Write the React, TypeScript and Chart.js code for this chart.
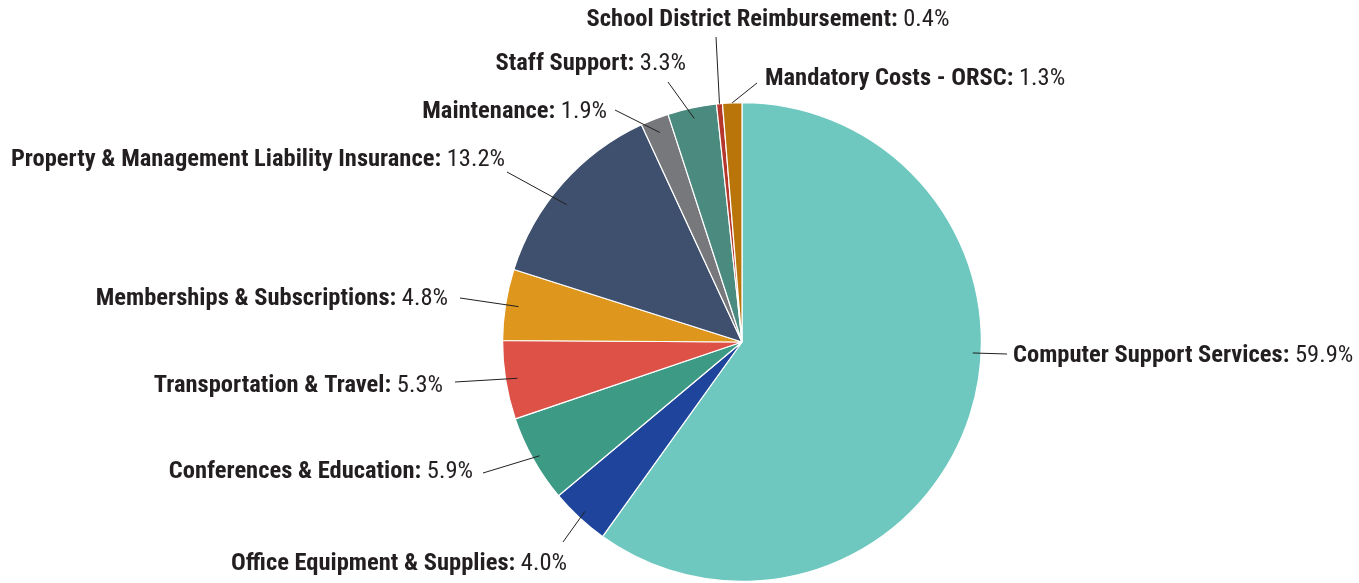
import React, { useEffect, useRef } from "react";
import { Chart, registerables } from "chart.js";

Chart.register(...registerables);

const categories = [
  "Computer Support Services",
  "Office Equipment & Supplies",
  "Conferences & Education",
  "Transportation & Travel",
  "Memberships & Subscriptions",
  "Property & Management Liability Insurance",
  "Maintenance",
  "Staff Support",
  "School District Reimbursement",
  "Mandatory Costs - ORSC",
];

const shares = [59.9, 4.0, 5.9, 5.3, 4.8, 13.2, 1.9, 3.3, 0.4, 1.3];

const colors = [
  "#6fc8bf",
  "#1f449c",
  "#3d9a85",
  "#dd5147",
  "#df961d",
  "#3e506d",
  "#77787b",
  "#4b8a7f",
  "#b5362b",
  "#b97509",
];

// Label layout relative to the pie centre: t = position along slice, r = fraction of radius for connector start,
// (ex, ey) connector end, (tx, ty) text anchor, align = text alignment
const labelLayout = [
  { t: 0.43, r: 0.965, ex: 265, ey: 12, tx: 271, ty: 12, align: "left" },
  { t: 0.5, r: 0.965, ex: -179, ey: 200, tx: -175, ty: 220, align: "right" },
  { t: 0.5, r: 0.97, ex: -259, ey: 131, tx: -269, ty: 128, align: "right" },
  { t: 0.5, r: 0.95, ex: -287, ey: 40, tx: -299, ty: 42, align: "right" },
  { t: 0.5, r: 0.945, ex: -282, ey: -44, tx: -294, ty: -45, align: "right" },
  { t: 0.43, r: 0.93, ex: -235, ey: -170, tx: -237, ty: -184, align: "right" },
  { t: 0.5, r: 0.94, ex: -127, ey: -232, tx: -135, ty: -232, align: "right" },
  { t: 0.5, r: 0.955, ex: -74, ey: -260, tx: -56, ty: -280, align: "right" },
  { t: 0.5, r: 1.0, ex: -26, ey: -305, tx: 26, ty: -324, align: "center" },
  { t: 0.5, r: 1.0, ex: 15, ey: -259, tx: 23, ty: -265, align: "left" },
];

const FONT_FAMILY = "'Liberation Sans Narrow', 'Arial Narrow', 'Roboto Condensed', Roboto, sans-serif";
const FONT_SIZE = 24.5;
const TEXT_SHIFT = 2;
const TEXT_COLOR = "#231f20";

const labelPlugin = {
  id: "pieLabels",
  afterDraw(chart: any) {
    const ctx = chart.ctx;
    const meta = chart.getDatasetMeta(0);
    ctx.save();
    meta.data.forEach((arc: any, i: number) => {
      const lay = labelLayout[i];
      const { x, y, startAngle, endAngle, outerRadius } = arc.getProps(
        ["x", "y", "startAngle", "endAngle", "outerRadius"],
        true
      );
      const ang = startAngle + (endAngle - startAngle) * lay.t;
      const sx = x + Math.cos(ang) * outerRadius * lay.r;
      const sy = y + Math.sin(ang) * outerRadius * lay.r;
      ctx.strokeStyle = TEXT_COLOR;
      ctx.lineWidth = 1;
      ctx.beginPath();
      ctx.moveTo(sx, sy);
      ctx.lineTo(x + lay.ex, y + lay.ey);
      ctx.stroke();

      const name = categories[i] + ": ";
      const val = shares[i].toFixed(1) + "%";
      const boldFont = `bold ${FONT_SIZE}px ${FONT_FAMILY}`;
      const normFont = `${FONT_SIZE}px ${FONT_FAMILY}`;
      ctx.font = boldFont;
      const wName = ctx.measureText(name).width;
      ctx.font = normFont;
      const wVal = ctx.measureText(val).width;
      const total = wName + wVal;
      let left = x + lay.tx;
      if (lay.align === "right") left -= total;
      else if (lay.align === "center") left -= total / 2;
      const ty = y + lay.ty + TEXT_SHIFT;
      ctx.textBaseline = "middle";
      ctx.textAlign = "left";
      ctx.fillStyle = TEXT_COLOR;
      ctx.font = boldFont;
      ctx.fillText(name, left, ty);
      ctx.font = normFont;
      ctx.fillText(val, left + wName, ty);
    });
    ctx.restore();
  },
};

export default function App() {
  const ref = useRef<HTMLCanvasElement | null>(null);
  useEffect(() => {
    if (!ref.current) return;
    const chart = new Chart(ref.current, {
      type: "pie",
      data: {
        labels: categories,
        datasets: [
          {
            data: shares,
            backgroundColor: colors,
            borderColor: "#ffffff",
            borderWidth: 1.2,
          },
        ],
      },
      options: {
        responsive: true,
        maintainAspectRatio: false,
        animation: false,
        layout: { padding: { top: 102, bottom: 1, left: 502, right: 377 } },
        plugins: {
          legend: { display: false },
          tooltip: { enabled: false },
        },
      },
      plugins: [labelPlugin],
    });
    return () => chart.destroy();
  }, []);
  return (
    <div style={{ position: "absolute", left: 0, top: 0, width: 1359, height: 583, background: "#ffffff" }}>
      <canvas ref={ref} />
    </div>
  );
}
